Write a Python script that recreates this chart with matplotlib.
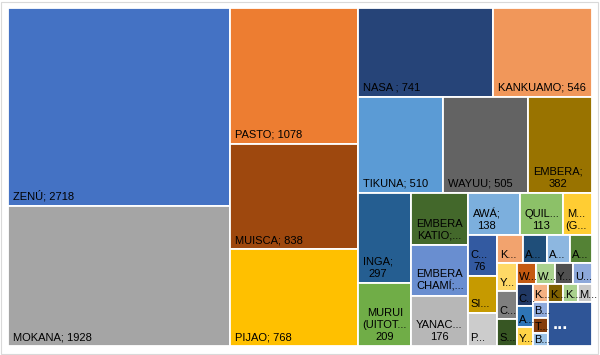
import matplotlib
matplotlib.use("Agg")
import matplotlib.pyplot as plt
from matplotlib.patches import Rectangle

# tile texts as they show in the chart (Excel cuts long names with "...")
labels = [
    "ZENÚ; 2718", "MOKANA; 1928",
    "PASTO; 1078", "MUISCA; 838", "PIJAO; 768",
    "NASA ; 741", "KANKUAMO; 546",
    "TIKUNA; 510", "WAYUU; 505", "EMBERA;\n382",
    "INGA;\n297", "MURUI\n(UITOT...\n209",
    "EMBERA\nKATIO;...", "EMBERA\nCHAMÍ;...", "YANAC...\n176",
    "AWÁ;\n138", "QUIL...\n113", "M...\n(G...",
    "C...\n76", "SI...", "P...",
    "K...", "A...", "A...", "A...",
    "Y...", "C...", "S...",
    "W...", "W...", "Y...", "U...",
    "C...", "A...", "Y...",
    "K...", "K...", "K...", "M...",
    "B...", "T...", "B...",
    "...",
]
values = [
    2718, 1928,
    1078, 838, 768,
    741, 546,
    510, 505, 382,
    297, 209,
    183, 180, 176,
    138, 113, 78,
    76, 67, 62,
    44, 42, 39, 39,
    34, 34, 33,
    24, 24, 24, 24,
    22, 20, 19,
    17, 17, 16, 16,
    15, 14, 12,
    120,
]
colors = [
    "#4472C4", "#A5A5A5",
    "#ED7D31", "#9E480E", "#FFC000",
    "#264478", "#F1975A",
    "#5B9BD5", "#636363", "#997300",
    "#255E91", "#70AD47",
    "#43682B", "#698ED0", "#B7B7B7",
    "#7CAFDD", "#8CC168", "#FFCD33",
    "#335AA1", "#C69A00", "#CCCCCC",
    "#F2A36E", "#1F4E79", "#8DB7E0", "#548235",
    "#FFD966", "#7F7F7F", "#375623",
    "#C55A11", "#A9D18E", "#505050", "#8EA9DB",
    "#203864", "#2E75B6", "#FFD347",
    "#F4B183", "#7F6000", "#A9D18E", "#C9C9C9",
    "#8FAADC", "#843C0C", "#9DC3E6",
    "#2F5597",
]
# how many tiles go in each strip of the squarified layout
strip_sizes = [2, 3, 2, 3, 2, 3, 3, 3, 4, 3, 4, 3, 4, 3, 1]

W, H = 584, 338  # plot area in pixels


def layout(vals, sizes, x, y, w, h):
    # strips go along the shorter side, like Excel's squarified treemap
    rects = []
    i = 0
    remaining = sum(vals)
    for n in sizes:
        chunk = vals[i:i + n]
        s = sum(chunk)
        if w >= h:
            sw = w * s / remaining
            yy = y
            for v in chunk:
                hh = h * v / s
                rects.append((x, yy, sw, hh))
                yy += hh
            x += sw
            w -= sw
        else:
            sh = h * s / remaining
            xx = x
            for v in chunk:
                ww = w * v / s
                rects.append((xx, y, ww, sh))
                xx += ww
            y += sh
            h -= sh
        remaining -= s
        i += n
    return rects


fig = plt.figure(figsize=(6, 3.55), dpi=100)
fig.patch.set_facecolor("white")
fig.patches.append(Rectangle((0.002, 0.003), 0.995, 0.992, transform=fig.transFigure,
                             fill=False, edgecolor="#D9D9D9", linewidth=0.8))

ax = fig.add_axes([8 / 600, 9 / 355, W / 600, H / 355])
ax.set_xlim(0, W)
ax.set_ylim(H, 0)
ax.axis("off")

rects = layout(values, strip_sizes, 0, 0, W, H)

for (x, y, w, h), lab, col in zip(rects, labels, colors):
    patch = Rectangle((x, y), w, h, facecolor=col, edgecolor="white", linewidth=1.3)
    ax.add_patch(patch)

    if lab == "...":
        t = ax.text(x + 5, y + h / 2, lab, color="white", fontsize=13, fontweight="bold",
                    ha="left", va="center", family="Liberation Sans")
    else:
        pad_x = min(5, w * 0.1)
        pad_y = min(4, h * 0.1)
        t = ax.text(x + pad_x, y + h - pad_y, lab, color="black", fontsize=8,
                    ha="left", va="bottom", multialignment="center",
                    family="Liberation Sans", linespacing=1.25)
    t.set_clip_path(patch)

fig.savefig("out.png", dpi=100)
